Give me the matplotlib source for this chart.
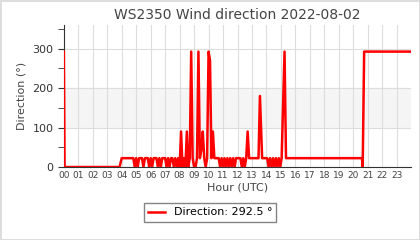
import matplotlib
matplotlib.use("Agg")
import matplotlib.pyplot as plt
from matplotlib.ticker import MultipleLocator

# Wind direction samples (hour UTC, degrees)
hours = [0.0, 0.05, 3.85, 4.0, 4.8, 4.9, 5.0, 5.1, 5.2, 5.4, 5.5, 5.6, 5.8, 5.9,
         6.0, 6.1, 6.2, 6.4, 6.5, 6.6, 6.7, 6.8, 7.0, 7.1, 7.2, 7.3, 7.4, 7.5,
         7.6, 7.7, 7.8, 7.9, 8.0, 8.1, 8.2, 8.3, 8.4, 8.5, 8.6, 8.7, 8.8, 8.9,
         9.0, 9.1, 9.2, 9.3, 9.4, 9.5, 9.6, 9.7, 9.8, 9.9, 10.0, 10.1, 10.2,
         10.3, 10.4, 10.7, 10.8, 10.9, 11.0, 11.1, 11.2, 11.3, 11.4, 11.5, 11.6,
         11.7, 11.8, 11.9, 12.2, 12.3, 12.4, 12.5, 12.6, 12.7, 12.8, 13.45, 13.55,
         13.7, 14.05, 14.15, 14.25, 14.35, 14.45, 14.55, 14.65, 14.75, 14.85,
         14.95, 15.05, 15.25, 15.35, 20.6, 20.65, 20.75, 24.0]
direction = [292.5, 0, 0, 22.5, 22.5, 0, 22.5, 0, 22.5, 22.5, 0, 22.5, 22.5, 0,
             22.5, 0, 22.5, 22.5, 0, 22.5, 0, 22.5, 22.5, 0, 22.5, 0, 22.5, 22.5,
             0, 22.5, 0, 22.5, 0, 90, 0, 22.5, 0, 90, 0, 22.5, 292.5, 22.5,
             0, 0, 22.5, 292.5, 22.5, 45, 90, 22.5, 0, 22.5, 292.5, 270, 22.5,
             90, 22.5, 22.5, 0, 22.5, 0, 22.5, 0, 22.5, 0, 22.5, 0,
             22.5, 0, 22.5, 22.5, 0, 22.5, 0, 22.5, 90, 22.5, 22.5, 180,
             22.5, 22.5, 0, 22.5, 0, 22.5, 0, 22.5, 0, 22.5,
             0, 22.5, 292.5, 22.5, 22.5, 0, 292.5, 292.5]
hour_labels = ["%02d" % h for h in range(24)]

fig = plt.figure(figsize=(4.2, 2.4), dpi=100)
fig.patch.set_edgecolor("#dddddd")
fig.patch.set_linewidth(2)
ax = fig.add_axes([0.152, 0.304, 0.827, 0.592])

ax.axhspan(100, 200, color="#f5f5f5", zorder=0)
line, = ax.plot(hours, direction, color="red", lw=1.8, zorder=3,
                label="Direction: %.1f °" % direction[-1])

ax.set_xlim(0, 24)
ax.set_ylim(0, 360)
ax.set_xticks(range(24))
ax.set_xticklabels(hour_labels, fontsize=6.5, color="#444444")
ax.set_yticks([0, 100, 200, 300])
ax.yaxis.set_minor_locator(MultipleLocator(50))
ax.tick_params(axis="y", labelsize=8, colors="#444444", length=4, which="both")
ax.tick_params(axis="y", colors="#333333", which="both")
ax.tick_params(axis="x", length=0, pad=3)
ax.grid(True, color="#dddddd", lw=0.8, zorder=1)
for s in ["top", "right"]:
    ax.spines[s].set_visible(False)
ax.spines["left"].set_color("#333333")
ax.spines["bottom"].set_color("#333333")

ax.set_title("WS2350 Wind direction 2022-08-02", fontsize=10, color="#444444", pad=4)
ax.set_xlabel("Hour (UTC)", fontsize=8, color="#444444", labelpad=2)
ax.set_ylabel("Direction (°)", fontsize=8, color="#444444")

leg = fig.legend(handles=[line], loc="center", bbox_to_anchor=(0.5, 0.115),
                 fontsize=8, frameon=True, fancybox=False, handlelength=1.5)
leg.get_frame().set_edgecolor("#666666")

fig.savefig("out.png", dpi=100)
